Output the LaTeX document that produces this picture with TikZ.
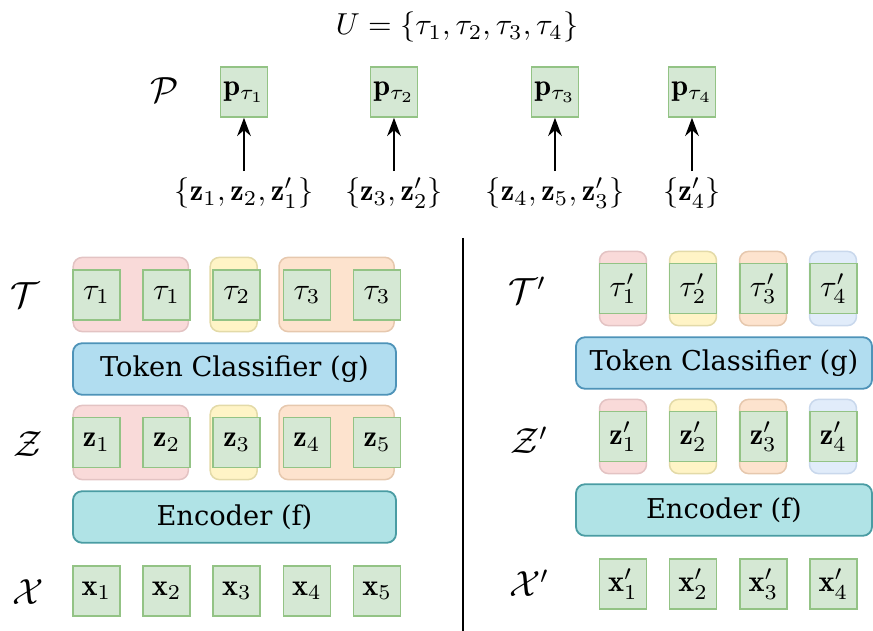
\documentclass[tikz,border=0pt]{standalone}
\usepackage{amsmath}
\usepackage{amssymb}
\usepackage{fontspec}
\newfontfamily\slabfont{DejaVu Serif}
\usetikzlibrary{arrows.meta, positioning}

\definecolor{tokfill}{HTML}{D5E8D4}
\definecolor{tokedge}{HTML}{93C385}
\definecolor{pinkfill}{HTML}{F9DAD9}
\definecolor{pinkedge}{HTML}{E3C3C3}
\definecolor{yellowfill}{HTML}{FFF4C6}
\definecolor{yellowedge}{HTML}{E3DAA8}
\definecolor{orangefill}{HTML}{FDE3CE}
\definecolor{orangeedge}{HTML}{E6C8AE}
\definecolor{bluefill}{HTML}{E1ECFA}
\definecolor{blueedge}{HTML}{C9D8EC}
\definecolor{clsfill}{HTML}{B1DDF0}
\definecolor{clsedge}{HTML}{4E93B8}
\definecolor{encfill}{HTML}{B0E3E6}
\definecolor{encedge}{HTML}{4A9CA3}

\tikzset{
  tok/.style={draw=tokedge, fill=tokfill, line width=0.55pt, minimum width=15.5pt, minimum height=16.5pt},
  grp/.style={rounded corners=3pt, line width=0.5pt, minimum height=24.5pt},
  pinkgrp/.style={grp, draw=pinkedge, fill=pinkfill},
  yellowgrp/.style={grp, draw=yellowedge, fill=yellowfill},
  orangegrp/.style={grp, draw=orangeedge, fill=orangefill},
  bluegrp/.style={grp, draw=blueedge, fill=bluefill},
  model/.style={rounded corners=3pt, line width=0.6pt, minimum height=17pt, font=\slabfont\fontsize{9}{10}\selectfont},
  cls/.style={model, draw=clsedge, fill=clsfill},
  enc/.style={model, draw=encedge, fill=encfill},
  rowlabel/.style={font=\large},
  assign/.style={-{Stealth[length=6pt, width=4.5pt]}, line width=0.6pt},
}

\begin{document}
\begin{tikzpicture}[x=0.33pt, y=-0.33pt, node distance=7.1pt, every node/.style={inner sep=0pt}]
    \useasboundingbox (0,0) rectangle (873,631);

    % Prototypes
    \node (uset) at (457,27) {$U = \{\tau_1, \tau_2, \tau_3, \tau_4\}$};
    \node[rowlabel] (plab) at (165,90) {$\mathcal{P}$};
    \node[tok] (p1) at (244,92) {$\mathbf{p}_{\tau_1}$};
    \node[tok] (p2) at (394,92) {$\mathbf{p}_{\tau_2}$};
    \node[tok] (p3) at (555,92) {$\mathbf{p}_{\tau_3}$};
    \node[tok] (p4) at (692,92) {$\mathbf{p}_{\tau_4}$};
    \node[inner sep=2pt] (s1) at (244,193) {$\{\mathbf{z}_1, \mathbf{z}_2, \mathbf{z}'_1\}$};
    \node[inner sep=2pt] (s2) at (394,193) {$\{\mathbf{z}_3, \mathbf{z}'_2\}$};
    \node[inner sep=2pt] (s3) at (555,193) {$\{\mathbf{z}_4, \mathbf{z}_5, \mathbf{z}'_3\}$};
    \node[inner sep=2pt] (s4) at (692,193) {$\{\mathbf{z}'_4\}$};

    \draw[assign] (s1) -- (p1);
    \draw[assign] (s2) -- (p2);
    \draw[assign] (s3) -- (p3);
    \draw[assign] (s4) -- (p4);

    % Separator
    \coordinate (septop) at (463,238);
    \coordinate (sepbot) at (463,631);
    \draw[line width=0.6pt] (septop) -- (sepbot);

    % Left: labelled batch
    \node[rowlabel] (tlab) at (25,295) {$\mathcal{T}$};
    \node[rowlabel] (zlab) at (28,444) {$\mathcal{Z}$};
    \node[rowlabel] (xlab) at (28,592) {$\mathcal{X}$};

    \node[pinkgrp, minimum width=38pt] (gt1) at (130.8,294.5) {};
    \node[yellowgrp, minimum width=15.5pt] (gt2) at (233.7,294.5) {};
    \node[orangegrp, minimum width=38pt] (gt3) at (336.6,294.5) {};
    \node[tok] (t1) at (96.5,295) {$\tau_1$};
    \node[tok, right=of t1] (t2) {$\tau_1$};
    \node[tok, right=of t2] (t3) {$\tau_2$};
    \node[tok, right=of t3] (t4) {$\tau_3$};
    \node[tok, right=of t4] (t5) {$\tau_3$};

    \node[cls, minimum width=106.6pt] (clsl) at (234.5,369) {Token Classifier (g)};

    \node[pinkgrp, minimum width=38pt] (gz1) at (130.8,442.5) {};
    \node[yellowgrp, minimum width=15.5pt] (gz2) at (233.7,442.5) {};
    \node[orangegrp, minimum width=38pt] (gz3) at (336.6,442.5) {};
    \node[tok] (z1) at (96.5,442.5) {$\mathbf{z}_1$};
    \node[tok, right=of z1] (z2) {$\mathbf{z}_2$};
    \node[tok, right=of z2] (z3) {$\mathbf{z}_3$};
    \node[tok, right=of z3] (z4) {$\mathbf{z}_4$};
    \node[tok, right=of z4] (z5) {$\mathbf{z}_5$};

    \node[enc, minimum width=106.6pt] (encl) at (234.5,517) {Encoder (f)};

    \node[tok] (x1) at (96.5,591) {$\mathbf{x}_1$};
    \node[tok, right=of x1] (x2) {$\mathbf{x}_2$};
    \node[tok, right=of x2] (x3) {$\mathbf{x}_3$};
    \node[tok, right=of x3] (x4) {$\mathbf{x}_4$};
    \node[tok, right=of x4] (x5) {$\mathbf{x}_5$};

    % Right: unlabelled batch
    \node[rowlabel] (tplab) at (527,290) {$\mathcal{T}'$};
    \node[rowlabel] (zplab) at (529,440) {$\mathcal{Z}'$};
    \node[rowlabel] (xplab) at (529,583) {$\mathcal{X}'$};

    \node[pinkgrp, minimum width=15.5pt] (gtp1) at (623,288.5) {};
    \node[yellowgrp, minimum width=15.5pt, right=of gtp1] (gtp2) {};
    \node[orangegrp, minimum width=15.5pt, right=of gtp2] (gtp3) {};
    \node[bluegrp, minimum width=15.5pt, right=of gtp3] (gtp4) {};
    \node[tok] (tp1) at (623,288.5) {$\tau'_1$};
    \node[tok, right=of tp1] (tp2) {$\tau'_2$};
    \node[tok, right=of tp2] (tp3) {$\tau'_3$};
    \node[tok, right=of tp3] (tp4) {$\tau'_4$};

    \node[cls, minimum width=97.7pt] (clsr) at (724,363) {Token Classifier (g)};

    \node[pinkgrp, minimum width=15.5pt] (gzp1) at (623,436.5) {};
    \node[yellowgrp, minimum width=15.5pt, right=of gzp1] (gzp2) {};
    \node[orangegrp, minimum width=15.5pt, right=of gzp2] (gzp3) {};
    \node[bluegrp, minimum width=15.5pt, right=of gzp3] (gzp4) {};
    \node[tok] (zp1) at (623,436.5) {$\mathbf{z}'_1$};
    \node[tok, right=of zp1] (zp2) {$\mathbf{z}'_2$};
    \node[tok, right=of zp2] (zp3) {$\mathbf{z}'_3$};
    \node[tok, right=of zp3] (zp4) {$\mathbf{z}'_4$};

    \node[enc, minimum width=97.7pt] (encr) at (724,510) {Encoder (f)};

    \node[tok] (xp1) at (623,584) {$\mathbf{x}'_1$};
    \node[tok, right=of xp1] (xp2) {$\mathbf{x}'_2$};
    \node[tok, right=of xp2] (xp3) {$\mathbf{x}'_3$};
    \node[tok, right=of xp3] (xp4) {$\mathbf{x}'_4$};
\end{tikzpicture}
\end{document}
